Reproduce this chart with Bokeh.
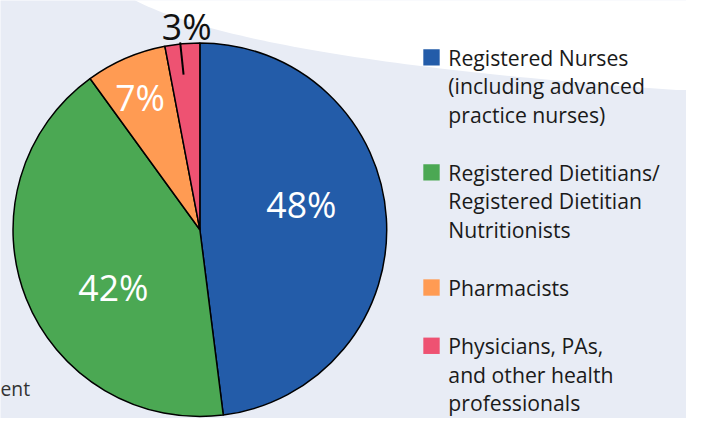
import math
from bokeh.plotting import figure
from bokeh.models import Range1d, ColumnDataSource
from bokeh.core.properties import value
from bokeh.embed import file_html
from bokeh.resources import INLINE

# ---------------- data ----------------
categories = [
    "Registered Nurses (including advanced practice nurses)",
    "Registered Dietitians/Registered Dietitian Nutritionists",
    "Pharmacists",
    "Physicians, PAs, and other health professionals",
]
legend_lines = [
    ["Registered Nurses", "(including advanced", "practice nurses)"],
    ["Registered Dietitians/", "Registered Dietitian", "Nutritionists"],
    ["Pharmacists"],
    ["Physicians, PAs,", "and other health", "professionals"],
]
shares = [48, 42, 7, 3]
share_labels = ["48%", "42%", "7%", "3%"]
colors = ["#235CA9", "#4BA853", "#FF9B53", "#EE5272"]
label_colors = ["white", "white", "white", "#111111"]

# ---------------- layout / style ----------------
W, H = 702, 434            # reference frame (pixel coords, y down)
PW, PH = 686, 418          # figure size on the page
S = PH / H                 # uniform scale of the reference frame
BG = "#E8ECF5"
FONT = "Open Sans"

def Y(ry):                 # reference y (down) -> data y (up)
    return H - ry

def fs(px):                # scaled font size
    return f"{px * S:.1f}px"

cx, cy, R = 207, Y(238), 194
label_frac = [0.56, 0.555, 0.78, 1.09]
label_turn = [-10.4, -11.9, -0.8, 1.7]   # degrees, clockwise adjustment
pct_size = 37

p = figure(width=PW, height=PH, x_range=Range1d(0, PW / S), y_range=Range1d(0, H),
           output_backend="svg", toolbar_location=None, min_border=0,
           x_axis_type=None, y_axis_type=None,
           background_fill_color=BG, border_fill_color=BG, outline_line_color=None)
p.grid.visible = False

# decorative white swoosh at the top right (quadratic curve)
P0, C, P2 = (140, 0), (260, 62), (702, 93)
xs, ys = [128], [Y(-15)]
n = 60
for i in range(n + 1):
    t = i / n
    bx = (1 - t) ** 2 * P0[0] + 2 * t * (1 - t) * C[0] + t ** 2 * P2[0]
    by = (1 - t) ** 2 * P0[1] + 2 * t * (1 - t) * C[1] + t ** 2 * P2[1]
    xs.append(bx)
    ys.append(Y(by))
xs += [740, 740, 128]
ys += [Y(93), Y(-20), Y(-20)]
p.patch(xs, ys, fill_color="white", line_color=None)

# ---------------- pie ----------------
total = sum(shares)
starts, ends, mids = [], [], []
cum = 0
for s in shares:
    a0 = math.pi / 2 - 2 * math.pi * cum / total
    cum += s
    a1 = math.pi / 2 - 2 * math.pi * cum / total
    starts.append(a0)
    ends.append(a1)
    mids.append((a0 + a1) / 2)

src = ColumnDataSource(dict(start=starts, end=ends, color=colors, cat=categories))
p.wedge(x=cx, y=cy, radius=R, start_angle="start", end_angle="end", direction="clock",
        fill_color="color", line_color="black", line_width=1.5, source=src)

# percentage labels
for i, lab in enumerate(share_labels):
    a = mids[i] - math.radians(label_turn[i])
    r = label_frac[i] * R
    lx = cx + r * math.cos(a)
    ly = cy + r * math.sin(a)
    p.text(x=[lx], y=[ly], text=[lab], text_align="center",
           text_baseline="middle", text_font=value(FONT),
           text_font_size=fs(pct_size), text_color=label_colors[i])

# leader line for the small slice
a = mids[3] + math.radians(0.6)
p.line([cx + 0.835 * R * math.cos(a), cx + 1.008 * R * math.cos(a)],
       [cy + 0.835 * R * math.sin(a), cy + 1.008 * R * math.sin(a)],
       line_color="black", line_width=2)

# ---------------- legend ----------------
leg_font = 22
step = 29.5
gap = 31
sq = 17
lx_sq, lx_txt = 439, 465
yc = 59
for i, lines in enumerate(legend_lines):
    p.rect(x=[lx_sq + sq / 2], y=[Y(yc)], width=sq, height=sq,
           fill_color=colors[i], line_color=None)
    for j, line in enumerate(lines):
        p.text(x=[lx_txt], y=[Y(yc + j * step)], text=[line], text_align="left",
               text_baseline="middle", text_font=value(FONT),
               text_font_size=fs(leg_font), text_color="#1A1A1A")
    yc += len(lines) * step + gap

# cut-off note text at the bottom left
p.text(x=[0], y=[Y(403)], text=["ent"], text_align="left", text_baseline="middle",
       text_font=value(FONT), text_font_size=fs(20), text_color="#333333")

open("out.html", "w").write(file_html(p, INLINE))
